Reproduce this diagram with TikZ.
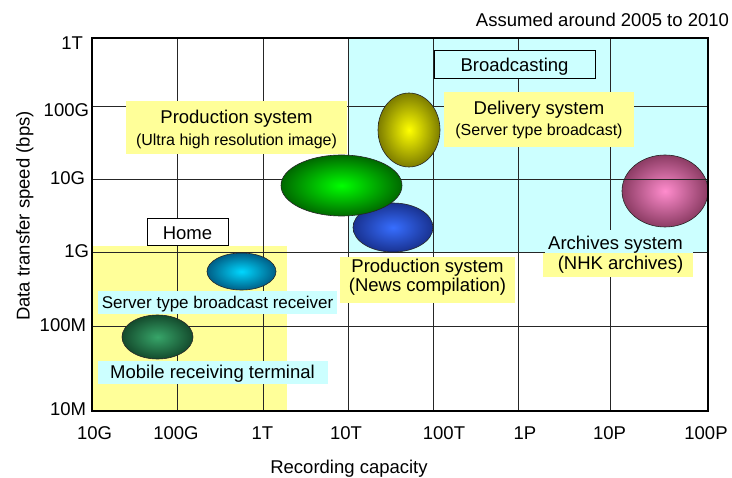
\documentclass[tikz,border=0pt]{standalone}
\usepackage{fontspec}
\setmainfont{Liberation Sans}
\usetikzlibrary{shapes.geometric}
\definecolor{lcyan}{RGB}{204,255,255}
\definecolor{lyellow}{RGB}{255,255,153}
\definecolor{yin}{RGB}{255,255,0}
\definecolor{yout}{RGB}{125,125,0}
\definecolor{gin}{RGB}{0,255,0}
\definecolor{gout}{RGB}{0,105,0}
\definecolor{bin}{RGB}{55,110,255}
\definecolor{bout}{RGB}{25,50,145}
\definecolor{pin}{RGB}{255,140,205}
\definecolor{pout}{RGB}{140,60,100}
\definecolor{cin}{RGB}{0,215,255}
\definecolor{cout}{RGB}{0,95,135}
\definecolor{din}{RGB}{55,165,105}
\definecolor{dout}{RGB}{20,75,45}
\begin{document}
\begin{tikzpicture}[x=1pt,y=-1pt,
  every node/.style={inner sep=0pt, outer sep=0pt},
  big/.style={font=\fontsize{18.5}{22}\selectfont, text height=13.25pt, text depth=0pt},
  mid/.style={font=\fontsize{17}{20}\selectfont, text height=12.2pt, text depth=0pt},
  small/.style={font=\fontsize{16}{19}\selectfont, text height=11.5pt, text depth=0pt},
  gridline/.style={line width=0.9pt, black!85},
  frameline/.style={line width=1.6pt},
  blob/.style={ellipse, draw=black!85, line width=0.6pt, inner sep=0pt},
  ybox/.style={fill=lyellow},
  cbox/.style={fill=lcyan},
  tagbox/.style={draw, line width=1pt}
]
\useasboundingbox (0,0) rectangle (732,478);
\fill[white] (0,0) rectangle (732,478);
% regions
\fill[lcyan] (348,38) rectangle (708,252);
\fill[lyellow] (92,246) rectangle (287,410);
% ellipse under grid
\node[blob, minimum width=86, minimum height=72, inner color=pin, outer color=pout] (pink) at (665,191) {};
% grid
\foreach \x in {177,263,348,433,518,610} \draw[gridline] (\x,38) -- (\x,411);
\foreach \y in {106,179,252,326} \draw[gridline] (92,\y) -- (708,\y);
\draw[frameline] (92,38) rectangle (708,411);
% ellipses
\node[blob, minimum width=62, minimum height=74, inner color=yin, outer color=yout] (yel) at (409,130) {};
\node[blob, minimum width=80, minimum height=49, inner color=bin, outer color=bout] (blue) at (393,227.5) {};
\node[blob, minimum width=121, minimum height=61, inner color=gin, outer color=gout] (green) at (341.5,185.5) {};
\node[blob, minimum width=69, minimum height=37, inner color=cin, outer color=cout] (cyanb) at (241.5,271.5) {};
\node[blob, minimum width=71, minimum height=44, inner color=din, outer color=dout] (dgreen) at (157.5,337) {};
% boxes
\node[tagbox, fill=white, minimum width=81, minimum height=27] (homebox) at (187.5,232.5) {};
\node[big] (home) at (187.5,233) {Home};
\node[tagbox, fill=lcyan, minimum width=161, minimum height=28] (bcbox) at (514.5,65) {};
\node[big] (bc) at (514.5,64.5) {Broadcasting};
\node[ybox, minimum width=221, minimum height=53] (uhbox) at (236.5,127.5) {};
\node[big] (uh1) at (236.5,117) {Production system};
\node[small] (uh2) at (236.5,140) {(Ultra high resolution image)};
\node[ybox, minimum width=190, minimum height=55] (dlbox) at (539,119.5) {};
\node[big] (dl1) at (539,107.5) {Delivery system};
\node[small] (dl2) at (539,129.5) {(Server type broadcast)};
\node[ybox, minimum width=175, minimum height=46] (nwbox) at (427.5,280) {};
\node[big] (nw1) at (427.5,265.5) {Production system};
\node[big] (nw2) at (427.5,285) {(News compilation)};
\node[cbox, minimum width=148, minimum height=23] (arbox1) at (619,241.5) {};
\node[ybox, minimum width=150, minimum height=24] (arbox2) at (618,265) {};
\node[big] (ar1) at (615.5,242.5) {Archives system};
\node[big] (ar2) at (620.5,263) {(NHK archives)};
\node[cbox, minimum width=239, minimum height=23] (srbox) at (217.5,302.5) {};
\node[mid] (sr) at (217.5,302) {Server type broadcast receiver};
\node[cbox, minimum width=230, minimum height=23] (mbbox) at (213,372.5) {};
\node[big] (mb) at (212.5,372) {Mobile receiving terminal};
% axis labels
\node[big, anchor=east] (note) at (729,20) {Assumed around 2005 to 2010};
\node[big, anchor=east] (y1) at (83,43) {1T};
\node[big, anchor=east] (y2) at (89,110) {100G};
\node[big, anchor=east] (y3) at (85,178) {10G};
\node[big, anchor=east] (y4) at (89,251) {1G};
\node[big, anchor=east] (y5) at (86,325) {100M};
\node[big, anchor=east] (y6) at (86,409) {10M};
\node[big] (x1) at (94.5,433) {10G};
\node[big] (x2) at (176,433) {100G};
\node[big] (x3) at (262.5,433) {1T};
\node[big] (x4) at (346,433) {10T};
\node[big] (x5) at (444,433) {100T};
\node[big] (x6) at (525,433) {1P};
\node[big] (x7) at (609.5,433) {10P};
\node[big] (x8) at (706,433) {100P};
\node[big, rotate=90] (ylab) at (23,216) {Data transfer speed (bps)};
\node[big] (xlab) at (349,467) {Recording capacity};
\end{tikzpicture}
\end{document}
